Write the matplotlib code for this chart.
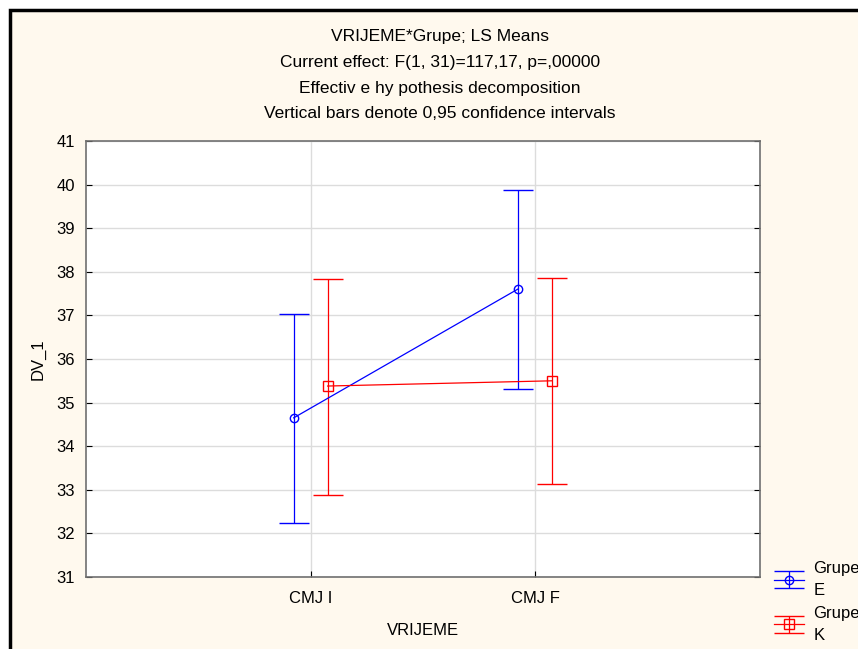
import numpy as np
import matplotlib.pyplot as plt
from matplotlib.patches import Rectangle

plt.rcParams['font.family'] = ['Liberation Sans', 'DejaVu Sans']

categories = ['CMJ I', 'CMJ F']
mean_e = [34.65, 37.61]
low_e = [32.24, 35.31]
high_e = [37.03, 39.88]
mean_k = [35.38, 35.50]
low_k = [32.88, 33.13]
high_k = [37.83, 37.86]
titles = ['VRIJEME*Grupe; LS Means',
          'Current effect: F(1, 31)=117,17, p=,00000',
          'Effectiv e hy pothesis decomposition',
          'Vertical bars denote 0,95 confidence intervals']

W, H = 858, 649
fig = plt.figure(figsize=(W / 100, H / 100), dpi=100)
fig.patch.set_facecolor('white')

# cream panel with black border (cut by the right/bottom edge)
panel = Rectangle((10 / W, -0.05), 1.1, 1 - 10 / H + 0.05, transform=fig.transFigure,
                  facecolor='#fff9ee', edgecolor='black', linewidth=2.5, zorder=-10)
fig.patches.append(panel)

ax = fig.add_axes([86 / W, 1 - 577 / H, (760 - 86) / W, (577 - 141) / H])
ax.set_facecolor('white')

x = np.arange(len(categories))
off = 0.0756

ye = np.array(mean_e)
yk = np.array(mean_k)
err_e = [ye - np.array(low_e), np.array(high_e) - ye]
err_k = [yk - np.array(low_k), np.array(high_k) - yk]

ax.errorbar(x - off, ye, yerr=err_e, color='#0000ff', marker='o', markersize=6,
            markerfacecolor='none', linewidth=0.9, elinewidth=0.9, capsize=11,
            capthick=1.0, label='Grupe\nE', zorder=3)
ax.errorbar(x + off, yk, yerr=err_k, color='#ff0000', marker='s', markersize=7,
            markerfacecolor='none', linewidth=0.9, elinewidth=0.9, capsize=11,
            capthick=1.0, label='Grupe\nK', zorder=3)

ax.set_xlim(-1, 2)
ax.set_ylim(31, 41)
ax.set_xticks(x)
ax.set_xticklabels(categories, fontsize=12)
ax.set_yticks(np.arange(31, 42, 1))
ax.tick_params(axis='y', labelsize=12, direction='in', length=4, right=True, pad=8)
ax.tick_params(axis='x', direction='in', length=4, pad=10)
ax.grid(True, color='#dcdcdc', linewidth=1)
ax.set_axisbelow(True)
for s in ax.spines.values():
    s.set_color('#707070')
    s.set_linewidth(1.2)

ax.set_ylabel('DV_1', fontsize=12, labelpad=8)
ax.set_xlabel('VRIJEME', fontsize=12, labelpad=12)

for i, t in enumerate(titles):
    fig.text(440 / W, 1 - (36 + 26 * i) / H, t, ha='center', va='center', fontsize=12.5)

leg = ax.legend(loc='upper left', bbox_to_anchor=(774 / W, 1 - 561 / H),
                bbox_transform=fig.transFigure, frameon=False, fontsize=12,
                handlelength=1.8, labelspacing=0.45, handletextpad=0.55,
                borderaxespad=0, borderpad=0)
for t in leg.get_texts():
    t.set_linespacing(1.6)

fig.savefig('out.png', dpi=100)
